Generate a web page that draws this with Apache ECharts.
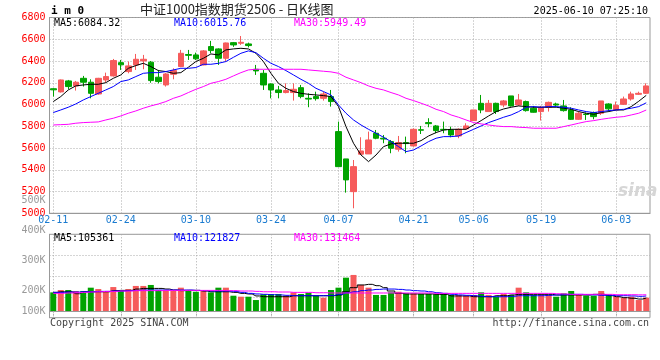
<!DOCTYPE html>
<html><head><meta charset="utf-8">
<script src="https://cdn.jsdelivr.net/npm/echarts@6/dist/echarts.min.js"></script>
<style>html,body{margin:0;padding:0;background:#fff}#c{width:660px;height:360px}</style>
</head><body><div id="c"></div>
<script>
const dates = ['02-11','02-12','02-13','02-14','02-17','02-18','02-19','02-20','02-21','02-24','02-25','02-26','02-27','02-28',
'03-03','03-04','03-05','03-06','03-07','03-10','03-11','03-12','03-13','03-14','03-17','03-18','03-19','03-20','03-21','03-24','03-25','03-26','03-27','03-28','03-31',
'04-01','04-02','04-03','04-07','04-08','04-09','04-10','04-11','04-14','04-15','04-16','04-17','04-18','04-21','04-22','04-23','04-24','04-25','04-28','04-29','04-30',
'05-06','05-07','05-08','05-09','05-12','05-13','05-14','05-15','05-16','05-19','05-20','05-21','05-22','05-23','05-26','05-27','05-28','05-29','05-30',
'06-03','06-04','06-05','06-06','06-09'];
const tickLabels = ['02-11','02-24','03-10','03-24','04-07','04-21','05-06','05-19','06-03'];
const openP  = [6145,6116,6217,6171,6241,6205,6097,6226,6263,6385, 6303,6364,6401,6389,6251,6180,6278,6349,6460,6456, 6364,6533,6511,6425,6569,6563,6557,6324,6287,6189, 6134,6110,6110,6155,6057,6073,6057,6073,5751,5500, 5199,5543,5546,5736,5690,5659,5589,5650,5619,5768, 5834,5803,5772,5766,5711,5776,5852,6011,5935,6011, 5996,6079,5996,6027,5966,5935,5975,6005,5987,5950, 5864,5912,5926,5920,6005,5950,6002,6051,6094,6103];
const closeP = [6135,6226,6165,6205,6205,6103,6241,6257,6404,6365, 6355,6416,6416,6220,6211,6281,6312,6471,6452,6420, 6493,6496,6425,6566,6548,6572,6542,6309,6180,6134, 6110,6128,6140,6073,6050,6054,6097,6027,5429,5307, 5429,5573,5674,5690,5683,5598,5650,5641,5772,5764, 5824,5760,5768,5720,5772,5803,5950,5950,6011,5935, 6033,5987,6042,5944,5929,5975,6020,5995,5944,5864, 5920,5908,5889,6033,5960,5993,6051,6097,6103,6171];
const lowP   = [6073,6110,6140,6128,6165,6057,6090,6201,6257,6318, 6287,6318,6324,6200,6195,6165,6232,6343,6410,6410, 6360,6471,6364,6395,6530,6548,6525,6272,6134,6057, 6057,6103,6036,6057,5975,6036,6036,5981,5429,5190, 5046,5543,5546,5681,5644,5552,5567,5552,5613,5729, 5791,5736,5736,5699,5690,5776,5852,5920,5935,5913, 5975,5981,5987,5935,5926,5853,5935,5981,5935,5858, 5858,5858,5864,5904,5935,5950,5996,6036,6088,6097];
const highP  = [6150,6230,6226,6217,6263,6232,6245,6293,6419,6410, 6395,6465,6456,6400,6318,6290,6333,6502,6502,6477, 6500,6585,6517,6569,6575,6630,6569,6364,6318,6195, 6171,6195,6195,6180,6103,6118,6118,6134,5843,5500, 5490,5699,5751,5766,5720,5674,5711,5705,5781,5803, 5874,5812,5843,5797,5781,5828,5950,6088,6042,6017, 6042,6079,6097,6036,5987,5987,6027,6017,6042,5975, 5935,5926,5935,6033,6011,6027,6073,6118,6118,6195];
const ma5  = [6027,6073,6134,6171,6180,6186,6186,6201,6241,6272, 6333,6358,6379,6349,6312,6303,6287,6293,6343,6395, 6425,6465,6456,6502,6511,6517,6511,6471,6395,6287, 6195,6149,6119,6103,6094,6088,6082,6073,5981,5797, 5644,5536,5475,5536,5613,5638,5644,5644,5644,5668, 5711,5742,5766,5772,5772,5772,5812,5852,5895,5935, 5959,5975,5987,5981,5975,5975,5975,5975,5966,5956, 5935,5920,5910,5926,5935,5950,5950,5981,6030,6084.32];
const ma10 = [5926,5950,5975,6005,6042,6073,6103,6134,6165,6211, 6226,6257,6287,6293,6293,6303,6318,6333,6333,6340, 6370,6370,6379,6395,6434,6471,6493,6477,6425,6379, 6349,6312,6272,6232,6195,6149,6119,6088,5996,5920, 5858,5812,5772,5736,5699,5659,5613,5567,5582,5619, 5659,5690,5705,5705,5711,5742,5772,5803,5834,5858, 5883,5904,5935,5975,5981,5975,5981,5981,5975,5966, 5950,5935,5926,5935,5944,5950,5956,5966,5981,6015.76];
const ma30 = [5812,5815,5818,5828,5834,5837,5840,5858,5874,5895, 5920,5941,5966,5987,6005,6027,6057,6079,6110,6140, 6165,6195,6211,6232,6263,6293,6318,6324,6324,6324, 6324,6324,6324,6324,6318,6312,6306,6300,6287,6251, 6226,6201,6171,6149,6134,6110,6088,6057,6036,6012, 5987,5956,5935,5904,5883,5858,5834,5822,5812,5803, 5797,5797,5791,5788,5782,5782,5782,5782,5797,5812, 5828,5843,5852,5864,5874,5883,5889,5904,5920,5949.49];
const vol  = [151000,170000,170000,162000,162000,189000,178000,162000,194000,162000, 178000,203000,203000,211000,170000,162000,162000,189000,162000,156000, 162000,151000,189000,189000,124000,116000,116000,89000,135000,138000, 138000,124000,151000,138000,148000,124000,108000,170000,189000,270000, 292000,211000,189000,130000,130000,151000,156000,143000,143000,138000, 138000,135000,138000,130000,130000,124000,130000,151000,130000,116000, 138000,130000,189000,151000,130000,130000,130000,116000,143000,162000, 130000,124000,124000,162000,135000,116000,108000,116000,89000,108000];
const vma5  = [151000,156000,156000,140000,156000,156000,156000,156000,165000,167000, 167000,178000,183000,183000,183000,178000,170000,165000,167000,167000, 162000,156000,156000,156000,151000,143000,138000,122000,116000,116000, 116000,116000,124000,124000,124000,124000,124000,124000,130000,156000, 189000,211000,216000,205000,189000,162000,143000,138000,138000,138000, 138000,135000,135000,122000,122000,122000,116000,116000,116000,124000, 124000,130000,135000,135000,135000,135000,135000,130000,130000,130000, 130000,130000,135000,135000,124000,116000,108000,103000,97000,105361];
const vma10 = [151000,151000,154000,154000,156000,156000,159000,159000,162000,162000, 165000,167000,170000,170000,170000,170000,170000,170000,170000,167000, 165000,162000,162000,162000,159000,151000,143000,138000,135000,132000, 130000,127000,124000,124000,124000,124000,124000,127000,135000,148000, 156000,165000,170000,175000,178000,178000,175000,170000,165000,162000, 156000,148000,143000,135000,130000,127000,124000,119000,116000,116000, 116000,119000,124000,124000,124000,124000,127000,130000,132000,135000, 135000,132000,130000,127000,127000,124000,124000,122000,119000,121827];
const vma30 = [143000,143000,146000,148000,151000,154000,156000,159000,159000,162000, 162000,165000,165000,165000,165000,167000,167000,167000,167000,167000, 167000,167000,167000,165000,165000,162000,162000,159000,156000,156000, 154000,154000,151000,151000,151000,148000,148000,146000,146000,146000, 146000,146000,146000,146000,146000,146000,146000,146000,146000,146000, 146000,143000,143000,143000,143000,143000,143000,143000,143000,143000, 143000,143000,143000,143000,143000,143000,143000,140000,138000,135000, 135000,135000,135000,135000,135000,132000,132000,132000,131000,131464];
const priceTicks = {min: 5000, max: 6800, step: 200};
const volTickLabels = ['100K','200K','300K','400K','500K'];
const volTickValues = [130000,200000,300000,400000,500000];
const legendMain = ['MA5:6084.32','MA10:6015.76','MA30:5949.49'];
const legendVol = ['MA5:105361','MA10:121827','MA30:131464'];
const titleText = '中证1000指数期货2506 - 日K线图';
const codeText = 'i m 0';
const timeText = '2025-06-10 07:25:10';
const footLeft = 'Copyright 2025 SINA.COM';
const footRight = 'http://finance.sina.com.cn';

const UP = '#f65b5b', DOWN = '#00a300';
const MONO = 'DejaVu Sans Mono';
const showIdx = (i, v) => tickLabels.indexOf(v) >= 0;
const dotted = {color: '#aaa', type: [1, 2], width: 1};
const candle = dates.map((d, i) => [openP[i], closeP[i], lowP[i], highP[i]]);
const volBars = vol.map((v, i) => ({value: v, itemStyle: {color: closeP[i] >= openP[i] ? UP : DOWN}}));
const lineS = (name, data, color, xi, yi, step) => ({
  name, type: 'line', data, xAxisIndex: xi, yAxisIndex: yi, symbol: 'none', step: step || false,
  lineStyle: {color, width: 1}, silent: true, animation: false, z: 5
});
const legColors = ['#000', '#0000ff', '#ff00ff'];
const legX = [54, 174, 294];
const titles = [
  {text: codeText, left: 51, top: 4.5, padding: 0, textStyle: {fontFamily: MONO, fontSize: 11, fontWeight: 'bold', color: '#000', lineHeight: 13}},
  {text: titleText, left: 140, top: 1.5, padding: 0, textStyle: {fontFamily: 'Noto Sans CJK SC', fontSize: 13, fontWeight: 'normal', color: '#222', lineHeight: 15}},
  {text: timeText, right: 12, top: 5.5, padding: 0, textStyle: {fontFamily: MONO, fontSize: 10, fontWeight: 'normal', color: '#000', lineHeight: 12}},
  {text: footLeft, left: 50, top: 317.5, padding: 0, textStyle: {fontFamily: MONO, fontSize: 10, fontWeight: 'normal', color: '#444', lineHeight: 12}},
  {text: footRight, right: 11, top: 317, padding: 0, textStyle: {fontFamily: MONO, fontSize: 10, fontWeight: 'normal', color: '#444', lineHeight: 12}}
];
legendMain.forEach((t, k) => titles.push({text: t, left: legX[k], top: 17.5, padding: 0, textStyle: {fontFamily: MONO, fontSize: 10, fontWeight: 'normal', color: legColors[k], lineHeight: 12}}));
legendVol.forEach((t, k) => titles.push({text: t, left: legX[k], top: 232.5, padding: 0, textStyle: {fontFamily: MONO, fontSize: 10, fontWeight: 'normal', color: legColors[k], lineHeight: 12}}));

const catAxis = (gi, labels) => ({
  type: 'category', data: dates, gridIndex: gi, boundaryGap: true,
  axisLine: {show: true, lineStyle: {color: '#999', width: 1}},
  axisTick: labels ? {show: false, alignWithLabel: true, interval: showIdx}
                   : {show: true, alignWithLabel: true, interval: showIdx, length: 6, inside: false, lineStyle: {color: '#aaa', type: [1, 2]}},
  axisLabel: labels ? {show: true, interval: showIdx, color: '#1a7bd0', fontFamily: MONO, fontSize: 10, margin: 2} : {show: false},
  splitLine: {show: true, interval: showIdx, alignWithLabel: true, lineStyle: dotted}
});

const chart = echarts.init(document.getElementById('c'), null, {renderer: 'canvas'});
chart.setOption({
  animation: false,
  backgroundColor: '#fff',
  title: titles,
  grid: [
    {left: 49.5, right: 10, top: 17.5, bottom: 146.7, show: true, borderColor: '#999', borderWidth: 1},
    {left: 49.5, right: 10, top: 234.3, bottom: 42.3, show: true, borderColor: '#999', borderWidth: 1},
    {left: 49.5, right: 10, top: 190, bottom: 40, show: false}
  ],
  xAxis: [
    catAxis(0, true),
    catAxis(1, false),
    {type: 'value', gridIndex: 2, show: false, min: 0, max: 1}
  ],
  yAxis: [
    {type: 'value', gridIndex: 0, min: priceTicks.min, max: priceTicks.max, interval: priceTicks.step,
     axisLine: {show: true, lineStyle: {color: '#999'}}, axisTick: {show: false},
     axisLabel: {color: '#f00', fontFamily: MONO, fontSize: 10, margin: 4, padding: [0, 0, 4, 0], formatter: (v) => String(v)},
     splitLine: {show: true, lineStyle: dotted}},
    {type: 'value', gridIndex: 1, min: -54000, max: 621000, interval: 168750,
     axisLine: {show: true, lineStyle: {color: '#999'}}, axisTick: {show: false}, axisLabel: {show: false},
     splitLine: {show: true, lineStyle: dotted}},
    {type: 'value', gridIndex: 2, min: 100000, max: 533333.33,
     axisLine: {show: false}, axisTick: {show: false}, splitLine: {show: false},
     axisLabel: {show: true, customValues: volTickValues, color: '#999', fontFamily: MONO, fontSize: 10, margin: 4,
       formatter: (v) => { const k = volTickValues.indexOf(Math.round(v)); return k >= 0 ? volTickLabels[k] : ''; }}}
  ],
  graphic: [
    {type: 'text', left: 618, top: 183, silent: true, z: 1,
     style: {text: 'sina', fontFamily: 'DejaVu Sans', fontSize: 17, fontStyle: 'italic', fontWeight: 'bold', fill: '#d6d6d6'}}
  ],
  series: [
    {name: 'K', type: 'candlestick', data: candle, xAxisIndex: 0, yAxisIndex: 0, barWidth: 6,
     itemStyle: {color: UP, color0: DOWN, borderColor: UP, borderColor0: DOWN, borderWidth: 1}, z: 3},
    lineS('MA5', ma5, '#000', 0, 0),
    lineS('MA10', ma10, '#0000ff', 0, 0),
    lineS('MA30', ma30, '#ff00ff', 0, 0),
    {name: 'VOL', type: 'bar', data: volBars, xAxisIndex: 1, yAxisIndex: 1, barWidth: 6, z: 3},
    lineS('VMA5', vma5, '#000', 1, 1, 'middle'),
    lineS('VMA10', vma10, '#0000ff', 1, 1, 'middle'),
    lineS('VMA30', vma30, '#ff00ff', 1, 1, 'middle')
  ]
});
</script></body></html>
